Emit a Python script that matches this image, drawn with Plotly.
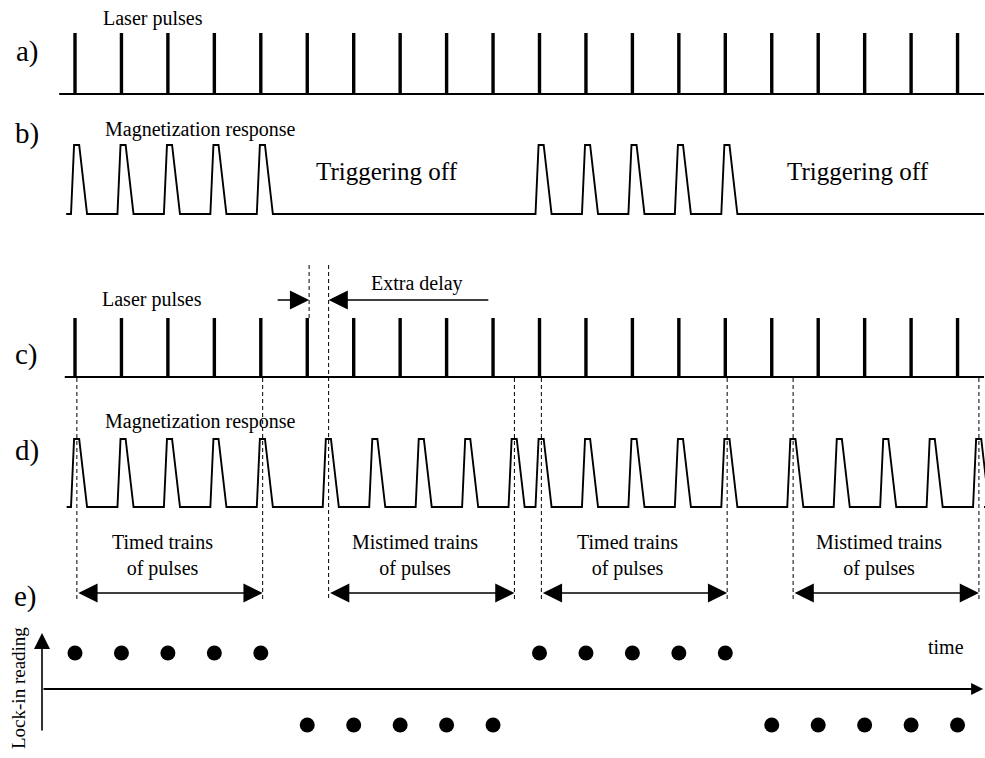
import plotly.graph_objects as go

# ---------------- data ----------------
pulse_index = list(range(20))                               # laser pulse number (time, in pulse periods)
laser_level = [1] * 20                                      # every laser pulse fires (rows a, c)
b_triggered = [1]*5 + [0]*5 + [1]*5 + [0]*5                 # b) response present / triggering off
d_delay = [0.0]*5 + [0.42]*5 + [0.0]*5 + [0.42]*5           # d) response lag (periods): timed / mistimed
lockin_reading = [1]*5 + [-1]*5 + [1]*5 + [-1]*5            # e) lock-in reading per pulse
trapezoid_dt = [-0.086, -0.02, 0.09, 0.26]                  # response shape (time offsets)
trapezoid_v = [0, 1, 1, 0]                                  # response shape (levels)
train_ranges = [(0, 4), (5, 9), (10, 14), (15, 19)]
train_labels = ["Timed trains<br>of pulses", "Mistimed trains<br>of pulses",
                "Timed trains<br>of pulses", "Mistimed trains<br>of pulses"]
trigger_off_label = "Triggering off"

# ---------------- layout constants ----------------
W, H = 985, 758
PX_PER_T = 46.45
T0_PX = 75.0
FONT = "Liberation Serif"
BLACK = "#000000"
PEAK_OFF = 0.04          # dashed marker lines sit on the response top

def py(p):
    return 1 - p / H

def px(p):
    return p / W

def row_range(base_px, top_px):
    s = base_px - top_px
    return [(base_px - H) / s, base_px / s]

x_range = [(0 - T0_PX) / PX_PER_T, (W - T0_PX) / PX_PER_T]
T_END = 19.57

fig = go.Figure()

# a) and c) laser pulses
def pulse_traces(yaxis, start):
    fig.add_trace(go.Scatter(x=[start, T_END], y=[0, 0], mode="lines",
                             line=dict(color=BLACK, width=2), yaxis=yaxis, hoverinfo="skip"))
    xs, ys = [], []
    for k, lv in zip(pulse_index, laser_level):
        xs += [k, k, None]
        ys += [0, lv, None]
    fig.add_trace(go.Scatter(x=xs, y=ys, mode="lines",
                             line=dict(color=BLACK, width=3.4), yaxis=yaxis, hoverinfo="skip"))

def response_trace(yaxis, triggers, start):
    xs, ys = [start], [0]
    for t in triggers:
        for dt, v in zip(trapezoid_dt, trapezoid_v):
            xs.append(t + dt)
            ys.append(v)
    xs.append(T_END)
    ys.append(0)
    fig.add_trace(go.Scatter(x=xs, y=ys, mode="lines",
                             line=dict(color=BLACK, width=1.9), yaxis=yaxis, hoverinfo="skip"))

pulse_traces("y", -0.34)
response_trace("y2", [k for k, on in zip(pulse_index, b_triggered) if on], -0.19)
pulse_traces("y3", -0.22)
d_triggers = [k + d for k, d in zip(pulse_index, d_delay)]
response_trace("y4", d_triggers, -0.18)

# e) lock-in reading dots
fig.add_trace(go.Scatter(x=pulse_index, y=lockin_reading, mode="markers",
                         marker=dict(color=BLACK, size=15, symbol="circle"),
                         yaxis="y5", hoverinfo="skip"))

shapes = []
annotations = []

# dashed boundary lines through c), d) down to e)
first_mistimed = next(k for k, d in zip(pulse_index, d_delay) if d > 0)
for (a, b) in train_ranges:
    for k in (a, b):
        xl = d_triggers[k] + PEAK_OFF
        top = 265 if k == first_mistimed else 378
        shapes.append(dict(type="line", xref="x", yref="paper", x0=xl, x1=xl,
                           y0=py(top), y1=py(600),
                           line=dict(color=BLACK, width=1, dash="4px,3px")))
# extra delay reference line at the undelayed pulse
x_ref = pulse_index[first_mistimed] + PEAK_OFF
shapes.append(dict(type="line", xref="x", yref="paper", x0=x_ref, x1=x_ref,
                   y0=py(265), y1=py(318), line=dict(color=BLACK, width=1, dash="4px,3px")))

# extra delay arrows (row c coordinates)
c_range = row_range(377, 318)
y_arrow_c = (377 - 300) / (377 - 318)
x_mis = d_triggers[first_mistimed] + PEAK_OFF
arrow_common = dict(text="", showarrow=True, arrowcolor=BLACK, arrowhead=2,
                    arrowwidth=1.6, arrowsize=2.4, standoff=0, startstandoff=0)
annotations.append(dict(x=x_ref, y=y_arrow_c, ax=x_ref - 0.71, ay=y_arrow_c,
                        xref="x", yref="y3", axref="x", ayref="y3", **arrow_common))
annotations.append(dict(x=x_mis, y=y_arrow_c, ax=x_mis + 3.47, ay=y_arrow_c,
                        xref="x", yref="y3", axref="x", ayref="y3", **arrow_common))

# e) train arrows
E_BASE, E_S = 689, 36.0
y_train_arrow = (E_BASE - 593) / E_S
for (a, b) in train_ranges:
    x0 = d_triggers[a] + PEAK_OFF
    x1 = d_triggers[b] + PEAK_OFF
    annotations.append(dict(x=x1, y=y_train_arrow, ax=x0, ay=y_train_arrow,
                            xref="x", yref="y5", axref="x", ayref="y5",
                            arrowside="end+start", **arrow_common))

# e) axes
x_axis0 = (42 - T0_PX) / PX_PER_T
annotations.append(dict(x=19.55, y=0, ax=x_axis0, ay=0, xref="x", yref="y5",
                        axref="x", ayref="y5", text="", showarrow=True, arrowcolor=BLACK,
                        arrowhead=2, arrowwidth=2, arrowsize=1.2, standoff=0))
annotations.append(dict(x=x_axis0, y=(E_BASE - 633) / E_S, ax=x_axis0, ay=(E_BASE - 732) / E_S,
                        xref="x", yref="y5", axref="x", ayref="y5", text="", showarrow=True,
                        arrowcolor=BLACK, arrowhead=2, arrowwidth=1.6, arrowsize=2.0, standoff=0))

# text labels
def label(text, xp, yp, size=20, angle=0):
    annotations.append(dict(text=text, x=px(xp), y=py(yp), xref="paper", yref="paper",
                            xanchor="center", yanchor="middle", showarrow=False,
                            textangle=angle, font=dict(family=FONT, size=size, color=BLACK)))

label("a)", 27, 52, 29)
label("b)", 27, 134, 29)
label("c)", 26, 354, 29)
label("d)", 27, 450, 29)
label("e)", 25, 596, 29)
label("Laser pulses", 153, 18)
label("Magnetization response", 200, 130)
label(trigger_off_label, 387, 172, 25)
label(trigger_off_label, 858, 172, 25)
label("Laser pulses", 152, 299)
label("Extra delay", 417, 284)
label("Magnetization response", 200, 421)
for (a, b), txt in zip(train_ranges, train_labels):
    xc = (d_triggers[a] + d_triggers[b]) / 2 * PX_PER_T + T0_PX - 5
    label(txt, xc, 555)
label("time", 946, 647)
label("Lock-in reading", 18, 688, 19, -90)

axis_hidden = dict(visible=False, showgrid=False, zeroline=False, fixedrange=True)
fig.update_layout(
    width=W, height=H,
    margin=dict(l=0, r=0, t=0, b=0),
    paper_bgcolor="white", plot_bgcolor="white",
    showlegend=False,
    xaxis=dict(range=x_range, domain=[0, 1], **axis_hidden),
    yaxis=dict(range=row_range(94, 33), domain=[0, 1], **axis_hidden),
    yaxis2=dict(range=row_range(214, 145), overlaying="y", anchor="x", **axis_hidden),
    yaxis3=dict(range=c_range, overlaying="y", anchor="x", **axis_hidden),
    yaxis4=dict(range=row_range(507, 439), overlaying="y", anchor="x", **axis_hidden),
    yaxis5=dict(range=[(E_BASE - H) / E_S, E_BASE / E_S], overlaying="y", anchor="x", **axis_hidden),
    shapes=shapes,
    annotations=annotations,
)

fig.write_html("out.html")
